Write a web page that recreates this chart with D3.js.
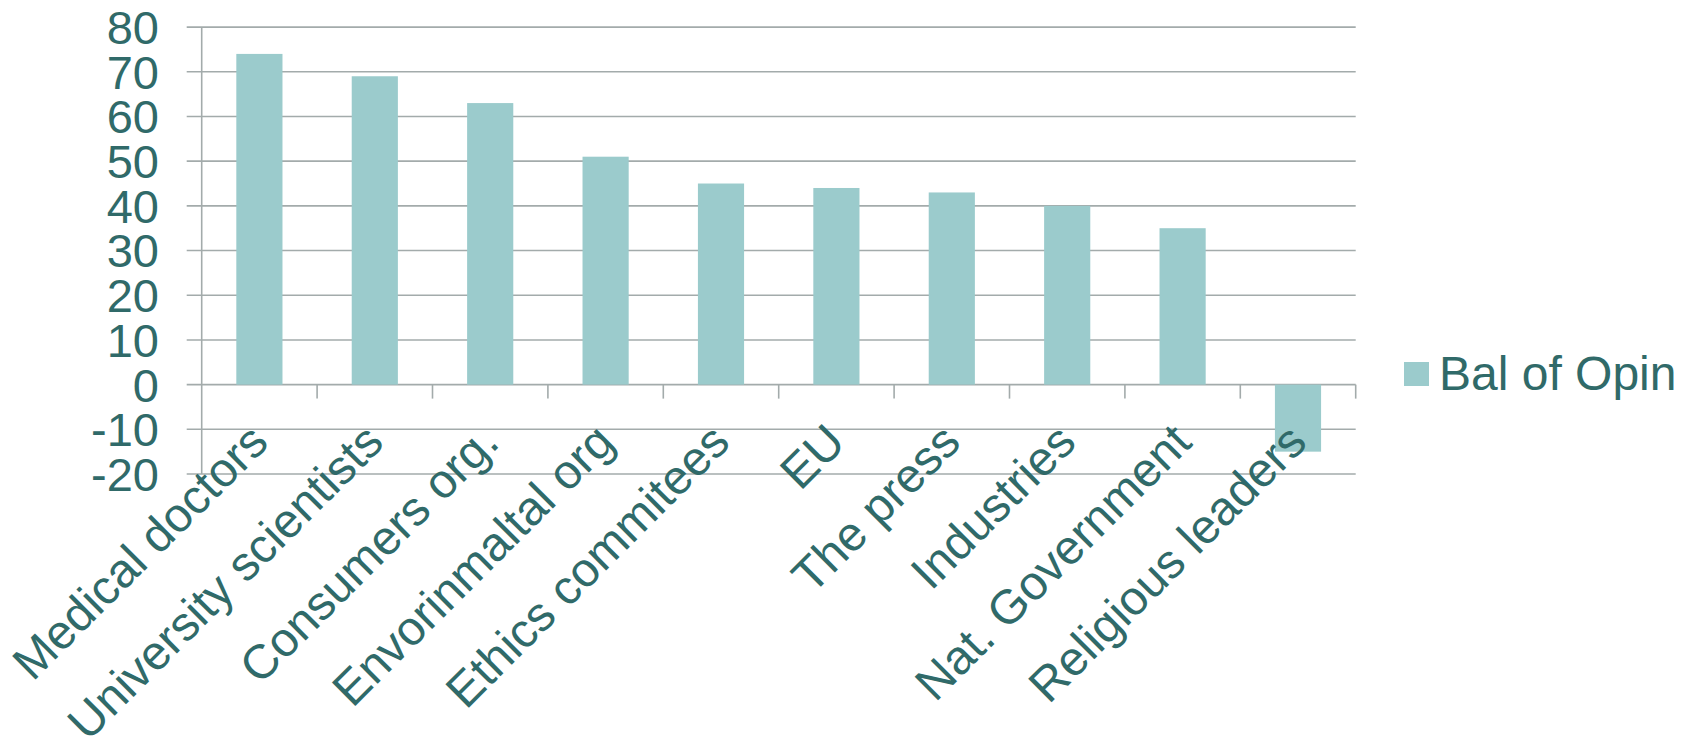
<!DOCTYPE html>
<html>
<head>
<meta charset="utf-8">
<script src="https://cdn.jsdelivr.net/npm/d3@7"></script>
<style>
  html, body { margin: 0; padding: 0; background: #ffffff; }
  svg { display: block; }
  text { font-family: "Liberation Sans", Arial, sans-serif; }
</style>
</head>
<body>
<svg id="chart" width="1690" height="738"></svg>
<script>
// Balance of opinion by actor
const categories = [
  "Medical doctors", "University scientists", "Consumers org.",
  "Envorinmaltal org", "Ethics commitees", "EU", "The press",
  "Industries", "Nat. Government", "Religious leaders"
];
const values = [74, 69, 63, 51, 45, 44, 43, 40, 35, -15];
const yTicks = [-20, -10, 0, 10, 20, 30, 40, 50, 60, 70, 80];
const seriesName = "Bal of Opin";

const plot = { left: 201.7, right: 1355.7, top: 27.1, bottom: 474 };
const textColor = "#306a69";
const barColor = "#9bcbcc";
const gridColor = "#a3abab";
const axisFont = 47;
const labelFont = 48;

const svg = d3.select("#chart");

const x = d3.scaleBand()
  .domain(categories)
  .range([plot.left, plot.right])
  .paddingInner(0.6)
  .paddingOuter(0.3);

const y = d3.scaleLinear()
  .domain([-20, 80])
  .range([plot.bottom, plot.top]);

// horizontal gridlines, extending left of the axis as tick marks
svg.append("g")
  .selectAll("line")
  .data(yTicks)
  .join("line")
  .attr("x1", plot.left - 15)
  .attr("x2", plot.right)
  .attr("y1", d => y(d))
  .attr("y2", d => y(d))
  .attr("stroke", gridColor)
  .attr("stroke-width", 1.6);

// value axis line
svg.append("line")
  .attr("x1", plot.left).attr("x2", plot.left)
  .attr("y1", y(80)).attr("y2", y(-20))
  .attr("stroke", gridColor)
  .attr("stroke-width", 1.6);

// y tick labels
svg.append("g")
  .selectAll("text")
  .data(yTicks)
  .join("text")
  .attr("x", 159)
  .attr("y", d => y(d))
  .attr("dy", "0.36em")
  .attr("text-anchor", "end")
  .attr("font-size", axisFont)
  .attr("fill", textColor)
  .text(d => d);

// bars
svg.append("g")
  .selectAll("rect")
  .data(values)
  .join("rect")
  .attr("x", (d, i) => x(categories[i]))
  .attr("width", x.bandwidth())
  .attr("y", d => y(Math.max(0, d)))
  .attr("height", d => Math.abs(y(d) - y(0)))
  .attr("fill", barColor);

// category tick marks on the zero line (band boundaries)
const step = x.step();
const boundaries = d3.range(1, categories.length + 1).map(i => plot.left + i * step);
svg.append("g")
  .selectAll("line")
  .data(boundaries)
  .join("line")
  .attr("x1", d => d).attr("x2", d => d)
  .attr("y1", y(0)).attr("y2", y(0) + 14)
  .attr("stroke", gridColor)
  .attr("stroke-width", 1.6);

// rotated category labels
svg.append("g")
  .selectAll("text")
  .data(categories)
  .join("text")
  .attr("text-anchor", "end")
  .attr("font-size", labelFont)
  .attr("fill", textColor)
  .attr("transform", d => {
    const cx = x(d) + x.bandwidth() / 2;
    return `translate(${cx + 11},${y(0) + 60}) rotate(-45)`;
  })
  .text(d => d);

// legend
const legend = svg.append("g").attr("transform", "translate(1404,362)");
legend.append("rect")
  .attr("width", 25).attr("height", 24)
  .attr("fill", barColor);
legend.append("text")
  .attr("x", 35)
  .attr("y", 28)
  .attr("font-size", labelFont)
  .attr("fill", textColor)
  .text(seriesName);
</script>
</body>
</html>
